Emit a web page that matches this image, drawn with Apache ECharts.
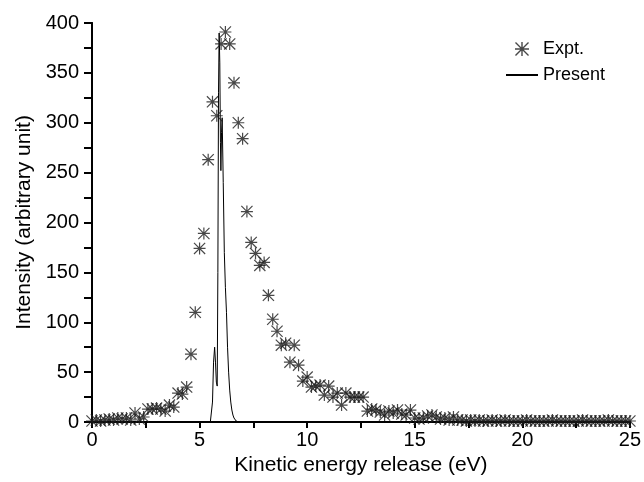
<!DOCTYPE html>
<html>
<head>
<meta charset="utf-8">
<script src="https://cdn.jsdelivr.net/npm/echarts@6/dist/echarts.min.js"></script>
<style>html,body{margin:0;padding:0;background:#fff;}#c{width:644px;height:482px;}</style>
</head>
<body>
<div id="c"></div>
<script>
// Experimental points (Expt.)
var exptX = [0.0,0.2,0.4,0.6,0.8,1.0,1.2,1.4,1.6,1.8,2.0,2.2,2.4,2.6,2.8,3.0,3.2,3.4,3.6,3.8,
  4.0,4.2,4.4,4.6,4.8,5.0,5.2,5.4,5.6,5.8,6.0,6.2,6.4,6.6,6.8,7.0,7.2,7.4,7.6,7.8,
  8.0,8.2,8.4,8.6,8.8,9.0,9.2,9.4,9.6,9.8,10.0,10.2,10.4,10.6,10.8,11.0,11.2,11.4,11.6,11.8,
  12.0,12.2,12.4,12.6,12.8,13.0,13.2,13.4,13.6,13.8,14.0,14.2,14.4,14.6,14.8,15.0,15.2,15.4,15.6,15.8,
  16.0,16.2,16.4,16.6,16.8,17.0,17.2,17.4,17.6,17.8,18.0,18.2,18.4,18.6,18.8,19.0,19.2,19.4,19.6,19.8,
  20.0,20.2,20.4,20.6,20.8,21.0,21.2,21.4,21.6,21.8,22.0,22.2,22.4,22.6,22.8,23.0,23.2,23.4,23.6,23.8,
  24.0,24.2,24.4,24.6,24.8,25.0];
var exptY = [1,2,1,2,3,2,4,3,4,2,9,3,5,13,13,14,13,11,17,15,
  29,28,35,68,110,174,189,263,321,307,379,391,379,340,300,284,211,180,169,157,
  160,127,103,91,77,79,60,77,57,41,45,35,36,37,27,36,25,29,17,29,
  25,25,25,25,11,13,12,10,7,11,9,12,8,7,12,4,3,4,6,7,
  5,3,4,2,5,2,2,1,2,1,2,1,1,2,1,1,2,1,1,1,
  1,2,1,1,1,1,1,2,1,1,1,1,1,1,2,1,1,1,1,1,
  2,1,1,1,1,1];
// Theoretical curve (Present)
var presX = [5.50,5.55,5.60,5.65,5.70,5.74,5.78,5.82,5.85,5.88,5.91,5.94,5.97,5.99,6.02,6.05,6.10,6.15,6.20,6.25,
  6.30,6.35,6.40,6.45,6.50,6.55,6.60,6.65,6.70,6.80];
var presY = [0,1,20,60,75,60,40,36,150,330,390,360,280,252,290,305,240,170,135,110,
  75,50,32,20,12,7,4,2,1,0];
var xTicks = [0,5,10,15,20,25];
var yTicks = [0,50,100,150,200,250,300,350,400];

var exptData = exptX.map(function(x,i){return [x, exptY[i]];});
var presData = presX.map(function(x,i){return [x, presY[i]];});

var asterisk = 'path://M45 0L55 0L55 100L45 100Z M0 45L100 45L100 55L0 55Z M0 7L7 0L100 93L93 100Z M93 0L100 7L7 100L0 93Z';
var FONT = 'Liberation Sans, Arial, sans-serif';

var chart = echarts.init(document.getElementById('c'), null, {renderer:'canvas'});
chart.setOption({
  animation:false,
  backgroundColor:'#fff',
  textStyle:{fontFamily:FONT},
  grid:{left:92, right:12, top:23, bottom:60, containLabel:false},
  legend:{
    orient:'vertical', left:505, top:40, padding:0, itemWidth:32, itemHeight:14, itemGap:8,
    textStyle:{fontFamily:FONT, fontSize:18, color:'#000'},
    data:[{name:'Expt.', icon:asterisk},{name:'Present', itemStyle:{opacity:0}}]
  },
  xAxis:[{
    type:'value', min:xTicks[0], max:xTicks[xTicks.length-1], interval:5, position:'bottom',
    axisLine:{lineStyle:{color:'#000', width:2}},
    axisTick:{show:true, inside:false, length:6, lineStyle:{color:'#000', width:2}},
    minorTick:{show:true, splitNumber:2, length:6, lineStyle:{color:'#000', width:2}},
    axisLabel:{fontSize:20, color:'#000', margin:8, fontFamily:FONT},
    splitLine:{show:false},
    name:'Kinetic energy release (eV)', nameLocation:'middle', nameGap:33,
    nameTextStyle:{fontSize:21, color:'#000', fontFamily:FONT}
  },{
    type:'value', min:0, max:25, position:'top',
    axisLine:{lineStyle:{color:'#000', width:2}},
    axisTick:{show:false}, axisLabel:{show:false}, splitLine:{show:false}
  }],
  yAxis:[{
    type:'value', min:yTicks[0], max:yTicks[yTicks.length-1], interval:50, position:'left',
    axisLine:{show:true, lineStyle:{color:'#000', width:2}},
    axisTick:{show:true, inside:false, length:8, lineStyle:{color:'#000', width:2}},
    minorTick:{show:true, splitNumber:2, length:8, lineStyle:{color:'#000', width:2}},
    axisLabel:{fontSize:20, color:'#000', margin:13, fontFamily:FONT},
    splitLine:{show:false},
    name:'Intensity (arbitrary unit)', nameLocation:'middle', nameGap:56,
    nameTextStyle:{fontSize:21, color:'#000', fontFamily:FONT}
  },{
    type:'value', min:0, max:400, interval:50, position:'right',
    axisLine:{show:true, lineStyle:{color:'#000', width:2}},
    axisTick:{show:true, inside:true, length:6, lineStyle:{color:'#000', width:2}},
    minorTick:{show:true, splitNumber:2, length:6, lineStyle:{color:'#000', width:2}},
    axisLabel:{show:false}, splitLine:{show:false}
  }],
  series:[{
    name:'Expt.', type:'scatter', data:exptData, symbol:asterisk, symbolSize:12,
    itemStyle:{color:'#1a1a1a'}, xAxisIndex:0, yAxisIndex:0, clip:true, z:3
  },{
    name:'Present', type:'line', data:presData, showSymbol:false, symbol:'none',
    lineStyle:{color:'#000', width:1}, itemStyle:{color:'#000'}, xAxisIndex:0, yAxisIndex:0, z:2
  }]
});
</script>
</body>
</html>
